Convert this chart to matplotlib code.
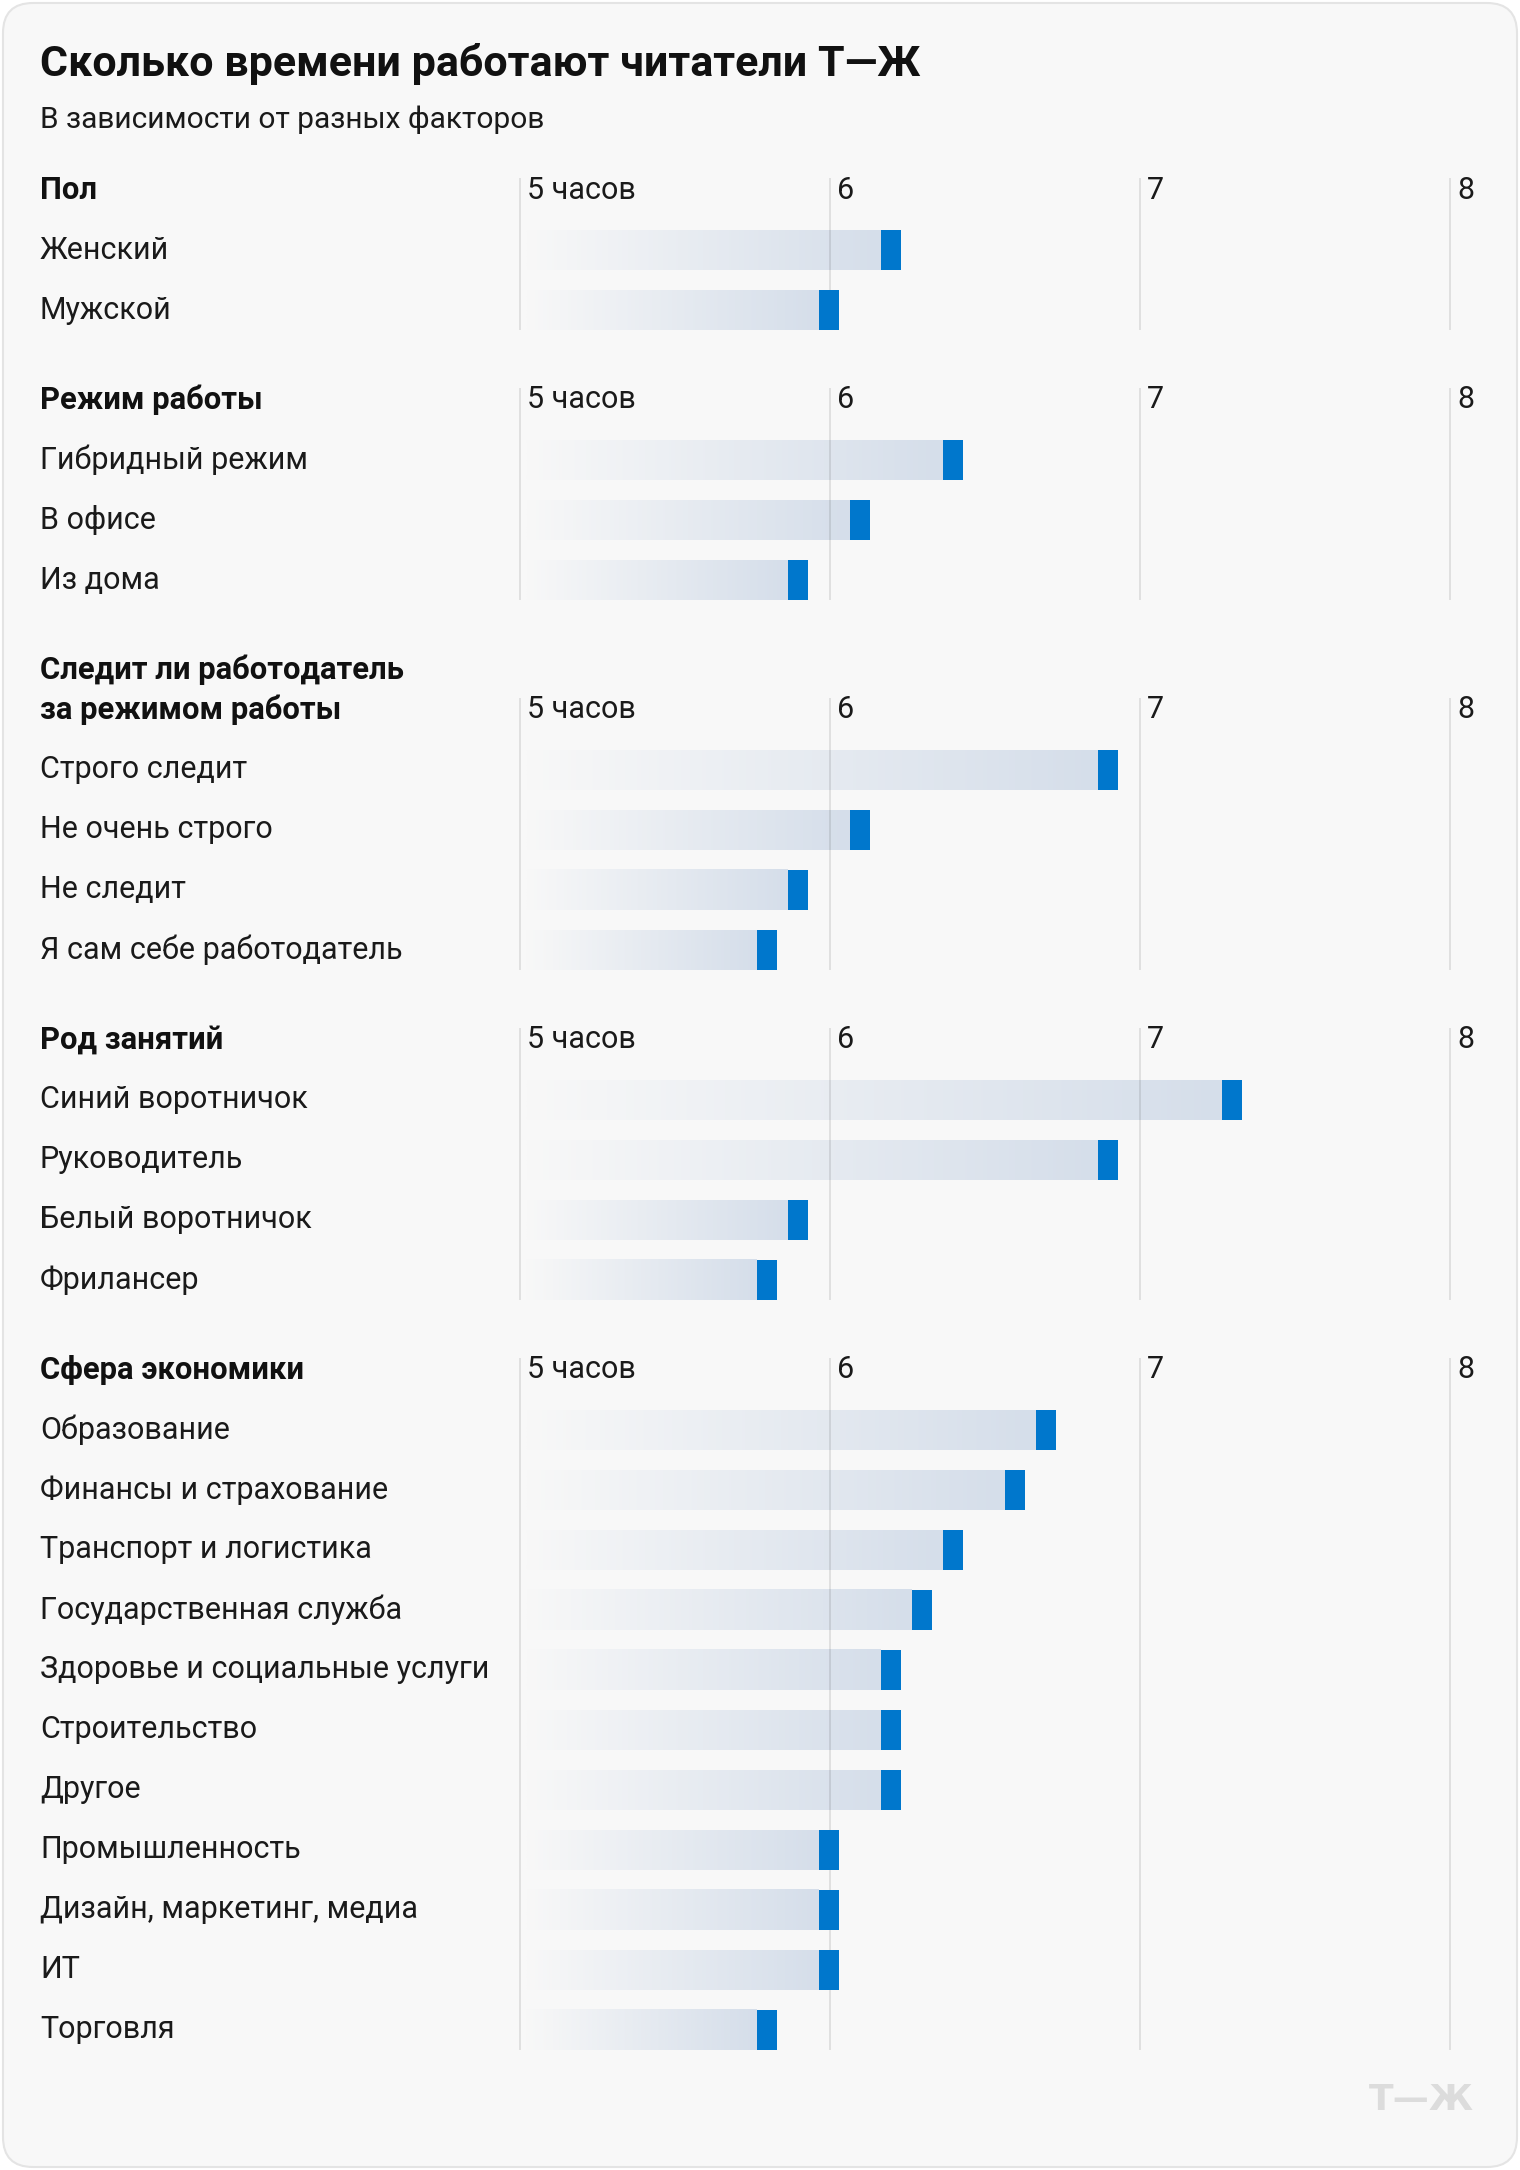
import numpy as np
import matplotlib
matplotlib.use('Agg')
import matplotlib.pyplot as plt
from matplotlib import transforms
from matplotlib.colors import LinearSegmentedColormap
from matplotlib.patches import FancyBboxPatch, Rectangle

plt.rcParams['font.family'] = ['Roboto', 'DejaVu Sans']

# ── data ──────────────────────────────────────────────────────────
title = "Сколько времени работают читатели Т—Ж"
subtitle = "В зависимости от разных факторов"

section_titles = ["Пол", "Режим работы", "Следит ли работодатель\nза режимом работы",
                  "Род занятий", "Сфера экономики"]

sex_labels = ["Женский", "Мужской"]
sex_hours = [6.23, 6.03]

mode_labels = ["Гибридный режим", "В офисе", "Из дома"]
mode_hours = [6.43, 6.13, 5.93]

control_labels = ["Строго следит", "Не очень строго", "Не следит", "Я сам себе работодатель"]
control_hours = [6.93, 6.13, 5.93, 5.83]

job_labels = ["Синий воротничок", "Руководитель", "Белый воротничок", "Фрилансер"]
job_hours = [7.33, 6.93, 5.93, 5.83]

sector_labels = ["Образование", "Финансы и страхование", "Транспорт и логистика",
                 "Государственная служба", "Здоровье и социальные услуги", "Строительство",
                 "Другое", "Промышленность", "Дизайн, маркетинг, медиа", "ИТ", "Торговля"]
sector_hours = [6.73, 6.63, 6.43, 6.33, 6.23, 6.23, 6.23, 6.03, 6.03, 6.03, 5.83]

tick_values = [5, 6, 7, 8]
tick_labels = ["5 часов", "6", "7", "8"]

sections = [
    (section_titles[0], sex_labels, sex_hours),
    (section_titles[1], mode_labels, mode_hours),
    (section_titles[2], control_labels, control_hours),
    (section_titles[3], job_labels, job_hours),
    (section_titles[4], sector_labels, sector_hours),
]

# ── style ─────────────────────────────────────────────────────────
W, H = 1520, 2170
BG = '#f8f8f8'
BLUE = '#0077cc'
TEXT = '#1a1a1a'
ROW = 60          # px per row
HALF = 20 / ROW   # half bar height in row units
CAP = 0.065       # blue end cap width, hours
X0, X1 = 4.9, 8.15
PX_PER_H = 310
AX_LEFT = 520 - (5 - X0) * PX_PER_H
AX_RIGHT = 520 + (X1 - 5) * PX_PER_H
FS = 22

grad = LinearSegmentedColormap.from_list('bar', [BG, '#d5deea'])

fig = plt.figure(figsize=(W / 100, H / 100), dpi=100)
fig.patch.set_facecolor('white')

bg = fig.add_axes([0, 0, 1, 1], zorder=-1)
bg.set_xlim(0, W)
bg.set_ylim(H, 0)
bg.axis('off')
bg.add_patch(FancyBboxPatch((3, 3), W - 6, H - 6, boxstyle="round,pad=0,rounding_size=30",
                            facecolor=BG, edgecolor='#e4e4e4', linewidth=1.5))

bg.text(40, 64, title, fontsize=31, fontweight='bold', color='#111111', va='center')
bg.text(40, 120, subtitle, fontsize=21.5, color=TEXT, va='center')
bg.text(1421, 2100, "Т—Ж", fontsize=26, fontweight='black', color='#dcdcdc',
        va='center', ha='center', family='DejaVu Sans')

y = 190
for title_text, labels, hours in sections:
    head_lines = title_text.split('\n')
    tick_row_px = y + 40 * (len(head_lines) - 1)
    n = len(labels)
    top_px = tick_row_px - 12
    bottom_px = tick_row_px + ROW * n + 20
    ax = fig.add_axes([AX_LEFT / W, 1 - bottom_px / H,
                       (AX_RIGHT - AX_LEFT) / W, (bottom_px - top_px) / H])
    ax.set_xlim(X0, X1)
    ax.set_ylim(n - 1 + HALF, -1.2)
    ax.axis('off')
    ax.patch.set_alpha(0)

    tr = transforms.blended_transform_factory(bg.transData, ax.transData)
    for k, line in enumerate(head_lines):
        ax.text(40, -1 - (len(head_lines) - 1 - k) * 40 / ROW, line, transform=tr,
                fontsize=22.3, fontweight='bold', color='#111111', va='center')

    for t, lab in zip(tick_values, tick_labels):
        ax.axvline(t, color='black', alpha=0.1, lw=1.3, zorder=3)
        ax.text(t + 0.023, -1, lab, fontsize=FS, color=TEXT, va='center')

    for i, (lab, v) in enumerate(zip(labels, hours)):
        ax.text(40, i, lab, transform=tr, fontsize=FS, color=TEXT, va='center')
        ax.imshow(np.linspace(0, 1, 256)[None, :], cmap=grad, aspect='auto',
                  extent=(5.02, v - CAP, i + HALF, i - HALF), zorder=2,
                  interpolation='bilinear')
        ax.add_patch(Rectangle((v - CAP, i - HALF), CAP, 2 * HALF,
                               facecolor=BLUE, edgecolor='none', zorder=4))
    ax.set_xlim(X0, X1)
    ax.set_ylim(n - 1 + HALF, -1.2)

    y = tick_row_px + ROW * n + 90

plt.savefig('out.png', dpi=100, facecolor='white')
plt.close()
